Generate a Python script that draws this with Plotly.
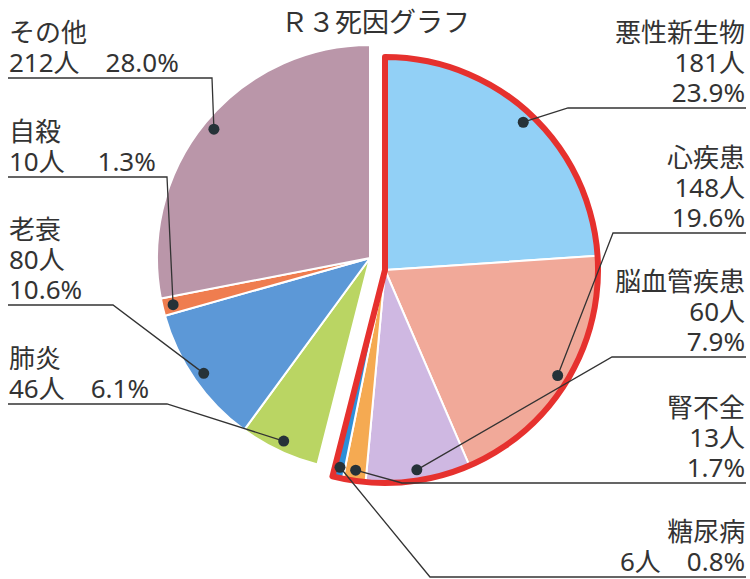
import math
import plotly.graph_objects as go

# ---------------- data ----------------
causes = ["悪性新生物", "心疾患", "脳血管疾患", "腎不全", "糖尿病", "肺炎", "老衰", "自殺", "その他"]
deaths = [181, 148, 60, 13, 6, 46, 80, 10, 212]
percents = ["23.9%", "19.6%", "7.9%", "1.7%", "0.8%", "6.1%", "10.6%", "1.3%", "28.0%"]
highlighted = [True, True, True, True, True, False, False, False, False]
title_text = "Ｒ３死因グラフ"

# ---------------- style / layout ----------------
W, H = 750, 579
colors = ["#92d0f6", "#f1a999", "#cfb8e2", "#f5aa52", "#2d8fd8",
          "#bad563", "#5c98d7", "#ef7d4f", "#ba96a9"]
TRANSPARENT = "rgba(0,0,0,0)"
MAIN_C = (370, 258)      # pixel centre of the pie
GROUP_C = (385, 270)     # pixel centre of the pulled-out group
R = 213                  # pie radius in pixels
DOT_R = 0.95             # radial position of leader dots
FONT = "Noto Sans, Noto Sans CJK JP"
TXT = "#333333"
LINE = "#333333"
FS = 26                  # glyph size
BASE_FS = 23             # base size -> line pitch ~30px
PITCH = 1.3 * BASE_FS

# label layout: side, underline y, elbow x, line texts
label_layout = {
    "悪性新生物": ("right", 108, 568, ["悪性新生物", "181人", "23.9%"]),
    "心疾患": ("right", 233, 613, ["心疾患", "148人", "19.6%"]),
    "脳血管疾患": ("right", 357, 612, ["脳血管疾患", "60人", "7.9%"]),
    "腎不全": ("right", 483, 402, ["腎不全", "13人", "1.7%"]),
    "糖尿病": ("right", 577, 430, ["糖尿病", "6人　0.8%"]),
    "肺炎": ("left", 404, 167, ["肺炎", "46人　6.1%"]),
    "老衰": ("left", 305, 113, ["老衰", "80人", "10.6%"]),
    "自殺": ("left", 177, 167, ["自殺", "10人　 1.3%"]),
    "その他": ("left", 78, 212, ["その他", "212人　28.0%"]),
}
LEFT_X, RIGHT_X = 8, 746


def px(x):
    return x / W


def py(y):
    return 1 - y / H


def domain(c):
    return dict(x=[px(c[0] - R), px(c[0] + R)], y=[py(c[1] + R), py(c[1] - R)])


fig = go.Figure()

# main pie (non-highlighted slices)
fig.add_trace(go.Pie(
    labels=causes, values=deaths, sort=False, direction="clockwise", rotation=0,
    textinfo="none", hoverinfo="skip", showlegend=False,
    domain=domain(MAIN_C),
    marker=dict(colors=[TRANSPARENT if h else c for h, c in zip(highlighted, colors)],
                line=dict(color="white", width=[0 if h else 2 for h in highlighted])),
))
# pulled-out group
fig.add_trace(go.Pie(
    labels=causes, values=deaths, sort=False, direction="clockwise", rotation=0,
    textinfo="none", hoverinfo="skip", showlegend=False,
    domain=domain(GROUP_C),
    marker=dict(colors=[c if h else TRANSPARENT for h, c in zip(highlighted, colors)],
                line=dict(color="white", width=[2 if h else 0 for h in highlighted])),
))
# red outline around the group
group_sum = sum(v for v, h in zip(deaths, highlighted) if h)
rest_sum = sum(v for v, h in zip(deaths, highlighted) if not h)
fig.add_trace(go.Pie(
    labels=["group", "rest"], values=[group_sum, rest_sum], sort=False,
    direction="clockwise", rotation=0,
    textinfo="none", hoverinfo="skip", showlegend=False,
    domain=domain(GROUP_C),
    marker=dict(colors=[TRANSPARENT, TRANSPARENT],
                line=dict(color=["#e6312e", TRANSPARENT], width=[6, 0])),
))

# ---------------- leader lines, dots, labels ----------------
total = sum(deaths)
cum = 0
shapes = []
annotations = []
for name, v, h in zip(causes, deaths, highlighted):
    mid = (cum + v / 2) / total * 2 * math.pi
    cum += v
    c = GROUP_C if h else MAIN_C
    dx = c[0] + DOT_R * R * math.sin(mid)
    dy = c[1] - DOT_R * R * math.cos(mid)
    side, uy, ex, lines = label_layout[name]
    sx = RIGHT_X if side == "right" else LEFT_X
    path = f"M {px(sx)},{py(uy)} L {px(ex)},{py(uy)} L {px(dx)},{py(dy)}"
    shapes.append(dict(type="path", xref="paper", yref="paper", path=path,
                       line=dict(color=LINE, width=1.3)))
    shapes.append(dict(type="circle", xref="paper", yref="paper",
                       xsizemode="pixel", ysizemode="pixel",
                       xanchor=px(dx), yanchor=py(dy),
                       x0=-5.5, x1=5.5, y0=-5.5, y1=5.5,
                       fillcolor="#263238", line=dict(color="#263238", width=0)))
    n = len(lines)
    yc = uy - 16 - (n - 1) * PITCH / 2
    text = "<br>".join(f"<span style='font-size:{FS}px'>{t}</span>" for t in lines)
    annotations.append(dict(
        text=text, xref="paper", yref="paper", x=px(sx), y=py(yc),
        xanchor="right" if side == "right" else "left", yanchor="middle",
        align="right" if side == "right" else "left",
        showarrow=False, borderpad=0,
        font=dict(family=FONT, size=BASE_FS, color=TXT)))

annotations.append(dict(text=title_text, xref="paper", yref="paper", x=px(375), y=py(22),
                        xanchor="center", yanchor="middle", showarrow=False,
                        font=dict(family=FONT, size=27, color=TXT)))

fig.update_layout(
    width=W, height=H, margin=dict(l=0, r=0, t=0, b=0),
    paper_bgcolor="white", plot_bgcolor="white",
    shapes=shapes, annotations=annotations,
)

fig.write_html("out.html", config={"displayModeBar": False},
               post_script="document.body.style.margin='0';")
